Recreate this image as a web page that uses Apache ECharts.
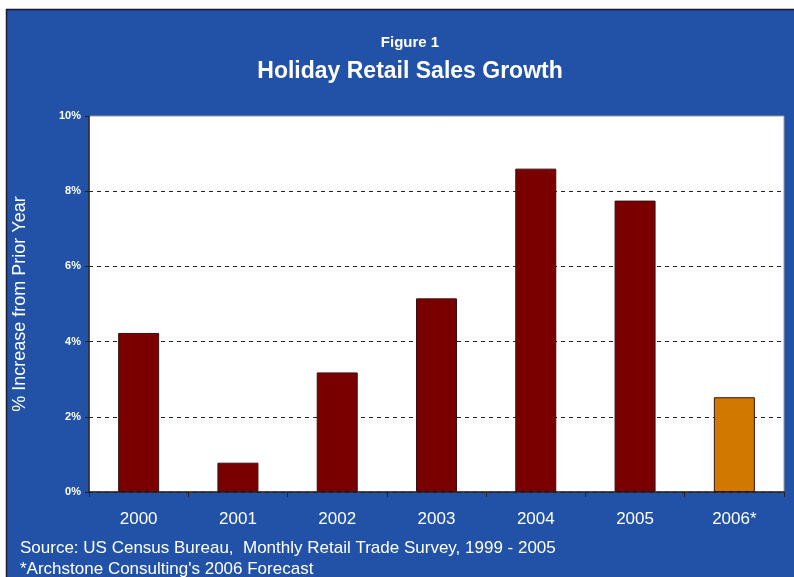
<!DOCTYPE html>
<html>
<head>
<meta charset="utf-8">
<script src="https://cdn.jsdelivr.net/npm/echarts@6/dist/echarts.min.js"></script>
<style>
  html, body { margin: 0; padding: 0; background: #ffffff; }
  #chart { width: 794px; height: 577px; }
</style>
</head>
<body>
<div id="chart"></div>
<script>
var years = ["2000", "2001", "2002", "2003", "2004", "2005", "2006*"];
var growth = [4.23, 0.78, 3.18, 5.15, 8.6, 7.75, 2.52];
var forecastIndex = 6;
var yTicks = [0, 2, 4, 6, 8, 10];

var chart = echarts.init(document.getElementById("chart"));
var option = {
  animation: false,
  graphic: [
    {
      type: "rect",
      left: 6,
      top: 9,
      shape: { width: 788, height: 568 },
      style: { fill: "#2152a8" },
      z: -10,
    },
    {
      type: "line",
      shape: { x1: 6, y1: 9.5, x2: 794, y2: 9.5 },
      style: { stroke: "#1a1a2a", lineWidth: 1.5 },
      z: -9,
    },
    {
      type: "line",
      shape: { x1: 6.5, y1: 9, x2: 6.5, y2: 577 },
      style: { stroke: "#1a1a2a", lineWidth: 1.5 },
      z: -9,
    },
    {
      type: "text",
      left: 20,
      top: 540,
      style: {
        text: "Source: US Census Bureau,  Monthly Retail Trade Survey, 1999 - 2005",
        fill: "#ffffff",
        font: "17px 'Liberation Sans', Arial",
      },
    },
    {
      type: "text",
      left: 20,
      top: 561,
      style: {
        text: "*Archstone Consulting's 2006 Forecast",
        fill: "#ffffff",
        font: "17px 'Liberation Sans', Arial",
      },
    },
  ],
  title: [
    {
      text: "Figure 1",
      left: 405,
      top: 30,
      textAlign: "center",
      textStyle: {
        color: "#ffffff",
        fontSize: 15,
        fontWeight: "bold",
        fontFamily: "Liberation Sans",
        letterSpacing: 2,
      },
    },
    {
      text: "Holiday Retail Sales Growth",
      left: 405,
      top: 55,
      textAlign: "center",
      textStyle: {
        color: "#ffffff",
        fontSize: 23,
        fontWeight: "bold",
        fontFamily: "Liberation Sans",
      },
    },
  ],
  grid: {
    left: 89,
    right: 10,
    top: 116,
    bottom: 85,
    show: true,
    backgroundColor: "#ffffff",
    borderColor: "#999999",
    borderWidth: 1,
  },
  xAxis: {
    type: "category",
    data: years,
    axisLine: { lineStyle: { color: "#222222", width: 1.5 } },
    axisTick: { show: true, length: 5, lineStyle: { color: "#222222" } },
    axisLabel: {
      color: "#ffffff",
      fontSize: 17,
      fontFamily: "Liberation Sans",
      margin: 19,
    },
  },
  yAxis: {
    type: "value",
    min: yTicks[0],
    max: yTicks[yTicks.length - 1],
    interval: 2,
    name: "% Increase from Prior Year",
    nameLocation: "middle",
    nameGap: 60,
    nameTextStyle: {
      color: "#ffffff",
      fontSize: 18,
      fontFamily: "Liberation Sans",
    },
    axisLine: { show: true, lineStyle: { color: "#222222", width: 1.5 } },
    axisTick: { show: true, length: 4, lineStyle: { color: "#222222" } },
    axisLabel: {
      color: "#ffffff",
      fontSize: 11,
      fontWeight: "bold",
      fontFamily: "Liberation Sans",
      margin: 8,
      formatter: "{value}%",
    },
    splitLine: {
      show: true,
      showMaxLine: false,
      lineStyle: { color: "#222222", type: [4, 4], width: 1 },
    },
  },
  series: [
    {
      type: "bar",
      barWidth: 41,
      data: growth.map(function (v, i) {
        return {
          value: v,
          itemStyle: {
            color: i === forecastIndex ? "#d07800" : "#7a0000",
          },
        };
      }),
      itemStyle: { borderColor: "#3a1010", borderWidth: 1 },
    },
  ],
};
chart.setOption(option);
</script>
</body>
</html>
